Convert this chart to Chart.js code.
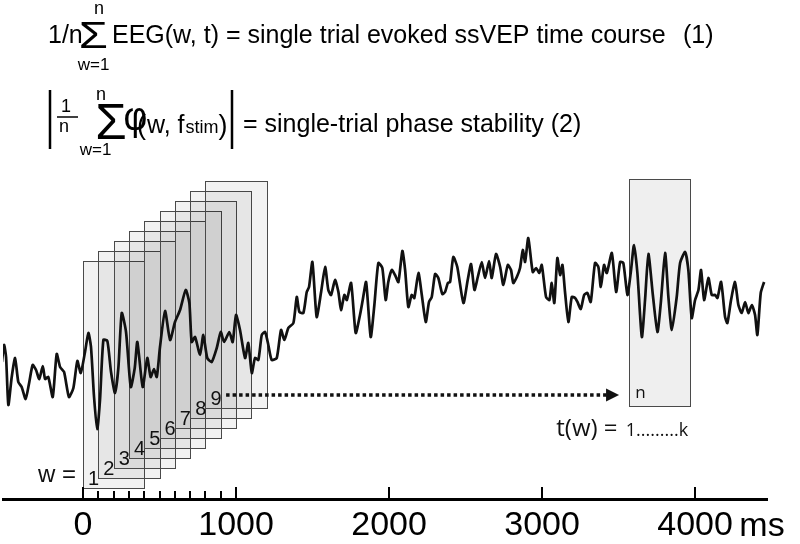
<!DOCTYPE html>
<html>
<head>
<meta charset="utf-8">
<script src="https://cdn.jsdelivr.net/npm/chart.js@4.4.1/dist/chart.umd.min.js"></script>
<style>
  html, body { margin: 0; background: #fff; }
</style>
</head>
<body>
<canvas id="eeg" width="800" height="544"></canvas>
<script>
// single trial EEG trace, time in ms relative to stimulus onset
const timeMs = [-530, -516, -503, -488, -466, -444, -423, -401, -375, -351, -329, -307, -286, -263, -248, -227,
  -198, -172, -150, -124, -92, -63, -37, -15, 13, 35, 52, 72, 93, 111, 133, 159, 183, 209, 231, 253, 281, 312,
  338, 355, 390, 420, 442, 464, 482, 503, 536, 569, 601, 634, 671, 695, 710, 732, 765, 786, 812, 841, 874, 900,
  922, 956, 978, 1000, 1026, 1059, 1080, 1103, 1124, 1146, 1168, 1190, 1211, 1233, 1266, 1294, 1316, 1342, 1375,
  1397, 1414, 1440, 1462, 1477, 1499, 1527, 1556, 1582, 1603, 1621, 1647, 1669, 1686, 1708, 1724, 1752, 1782,
  1810, 1828, 1850, 1880, 1904, 1930, 1956, 1978, 1995, 2018, 2039, 2061, 2087, 2105, 2126, 2148, 2165, 2192,
  2214, 2240, 2261, 2279, 2301, 2322, 2348, 2366, 2384, 2399, 2420, 2446, 2486, 2514, 2536, 2558, 2580, 2606,
  2627, 2654, 2671, 2699, 2726, 2747, 2776, 2797, 2812, 2835, 2856, 2874, 2889, 2910, 2939, 2961, 2982, 2998,
  3026, 3048, 3063, 3080, 3100, 3118, 3133, 3150, 3172, 3194, 3216, 3231, 3253, 3275, 3296, 3318, 3346, 3368,
  3384, 3405, 3423, 3456, 3484, 3510, 3531, 3558, 3580, 3601, 3623, 3652, 3673, 3695, 3724, 3754, 3776, 3804,
  3826, 3848, 3880, 3902, 3935, 3956, 3978, 4000, 4022, 4039, 4059, 4087, 4109, 4131, 4146, 4170, 4196, 4211,
  4235, 4261, 4283, 4305, 4327, 4348, 4371, 4392, 4407, 4429, 4451];
const amplitude = [38, 55, 43, -5, 23, 42, 18, 13, 1, 18, 35, 30, 21, 34, 21, 23,
  3, 46, 33, 28, 3, 12, 39, 27, 48, 67, 53, 3, -29, 0, 60, 59, 28, 7, 32, 87, 68, 13,
  32, 58, 13, 42, 23, 31, 23, 53, 89, 60, 78, 90, 110, 97, 58, 63, 45, 65, 42, 38, 52, 68,
  58, 68, 58, 85, 70, 42, 57, 27, 42, 40, 65, 68, 55, 40, 42, 70, 60, 72, 77,
  103, 88, 87, 108, 113, 138, 83, 108, 133, 110, 105, 120, 108, 90, 105, 100, 117, 67,
  85, 100, 118, 63, 95, 137, 132, 100, 118, 130, 125, 118, 149, 130, 93, 105, 102, 127,
  105, 78, 98, 103, 126, 122, 106, 108, 117, 118, 143, 133, 97, 120, 136, 110, 123, 138,
  122, 139, 122, 146, 133, 115, 135, 130, 117, 123, 132, 150, 138, 162, 128, 132, 127, 135,
  103, 100, 117, 97, 142, 125, 135, 108, 78, 103, 102, 98, 91, 105, 107, 98, 137, 133,
  113, 135, 127, 147, 108, 138, 137, 105, 128, 155, 127, 63, 100, 146, 105, 68, 97, 147,
  102, 70, 103, 137, 148, 130, 82, 100, 110, 130, 100, 122, 105, 105, 102, 118, 83, 77,
  100, 118, 95, 87, 98, 87, 95, 85, 65, 107, 118];

// axis ticks
const majorTicks = [0, 1000, 2000, 3000, 4000];
const minorTicks = [100, 200, 300, 400, 500, 600, 700, 800, 900];

// sliding windows w = 1..9 (start in ms, vertical stacking offset)
const windowLabels = ['1', '2', '3', '4', '5', '6', '7', '8', '9'];
const windowStarts = [0, 100, 200, 300, 400, 500, 600, 700, 800];
const windowLevels = [0, 10, 20, 30, 40, 50, 60, 70, 80];
const windowLength = 400;
const windowLow = -88, windowHigh = 139;
// last window n
const lastStart = 3570, lastLevel = 82;
// arrow from window 9 to window n
const arrowFrom = 935, arrowTo = 3503, arrowLevel = 5;

const sans = "'Liberation Sans', Arial, sans-serif";
const soft = "'Open Sans', sans-serif";

// draw a glyph stretched into a given pixel box
function fitBox(ctx, text, family, l, t, r, b) {
  ctx.font = `100px ${family}`;
  const m = ctx.measureText(text);
  const h = m.actualBoundingBoxAscent + m.actualBoundingBoxDescent;
  const w = m.actualBoundingBoxLeft + m.actualBoundingBoxRight;
  ctx.save();
  ctx.translate(l, t);
  ctx.scale((r - l) / w, (b - t) / h);
  ctx.textAlign = 'left';
  ctx.textBaseline = 'alphabetic';
  ctx.fillText(text, m.actualBoundingBoxLeft, m.actualBoundingBoxAscent);
  ctx.restore();
}

function put(ctx, text, font, x, y, align) {
  ctx.font = font;
  ctx.textAlign = align || 'left';
  ctx.textBaseline = 'alphabetic';
  ctx.fillText(text, x, y);
  return x + ctx.measureText(text).width;
}

const overlay = {
  id: 'overlay',
  beforeDatasetsDraw(chart) {
    const { ctx, scales: { x, y } } = chart;
    ctx.save();
    const box = (start, level, fill) => {
      const l = Math.round(x.getPixelForValue(start)) + 0.5;
      const r = Math.round(x.getPixelForValue(start + windowLength)) + 0.5;
      const t = Math.round(y.getPixelForValue(windowHigh + level)) + 0.5;
      const b = Math.round(y.getPixelForValue(windowLow + level)) + 0.5;
      ctx.fillStyle = fill;
      ctx.fillRect(l, t, r - l, b - t);
      ctx.strokeStyle = '#4a4a4a';
      ctx.lineWidth = 1;
      ctx.strokeRect(l, t, r - l, b - t);
    };
    windowStarts.forEach((s, i) => box(s, windowLevels[i], 'rgba(0,0,0,0.05)'));
    box(lastStart, lastLevel, '#efefef');
    ctx.restore();
  },
  afterDatasetsDraw(chart) {
    const { ctx, scales: { x, y } } = chart;
    ctx.save();
    ctx.fillStyle = '#111';
    windowStarts.forEach((s, i) => {
      put(ctx, windowLabels[i], `20px ${sans}`, x.getPixelForValue(s) + 5,
        y.getPixelForValue(windowLow + windowLevels[i]) - 3);
    });
    put(ctx, 'w =', `24px ${sans}`, x.getPixelForValue(0) - 45, y.getPixelForValue(windowLow) - 6);
    put(ctx, 'n', `17px ${soft}`, x.getPixelForValue(lastStart) + 6, y.getPixelForValue(windowLow + lastLevel) - 8);

    // dotted arrow
    const ay = y.getPixelForValue(arrowLevel);
    const ax0 = x.getPixelForValue(arrowFrom), ax1 = x.getPixelForValue(arrowTo);
    ctx.strokeStyle = '#111';
    ctx.lineWidth = 3.5;
    ctx.setLineDash([3.5, 3]);
    ctx.beginPath();
    ctx.moveTo(ax0, ay);
    ctx.lineTo(ax1 - 11, ay);
    ctx.stroke();
    ctx.setLineDash([]);
    ctx.beginPath();
    ctx.moveTo(ax1, ay);
    ctx.lineTo(ax1 - 13, ay - 6.5);
    ctx.lineTo(ax1 - 13, ay + 6.5);
    ctx.closePath();
    ctx.fill();

    // t(w) = 1.........k
    const tx = put(ctx, 't(w) = ', `24px ${soft}`, x.getPixelForValue(lastStart) - 73, ay + 41);
    put(ctx, '1.........k', `18px ${soft}`, tx + 2, ay + 41);
    ctx.restore();
  },
  afterDraw(chart) {
    const { ctx, scales: { x } } = chart;
    const base = chart.chartArea.bottom;
    ctx.save();
    ctx.strokeStyle = '#000';
    ctx.lineWidth = 2;
    ctx.beginPath();
    majorTicks.forEach(v => {
      const px = Math.round(x.getPixelForValue(v));
      ctx.moveTo(px, base); ctx.lineTo(px, base - 13);
    });
    minorTicks.forEach(v => {
      const px = Math.round(x.getPixelForValue(v));
      ctx.moveTo(px, base); ctx.lineTo(px, base - 9);
    });
    ctx.stroke();

    ctx.fillStyle = '#000';
    // unit label after the last tick label
    const tickFont = `34px ${sans}`;
    ctx.font = tickFont;
    const lastLabel = String(majorTicks[majorTicks.length - 1]);
    const unitX = x.getPixelForValue(majorTicks[majorTicks.length - 1]) +
      ctx.measureText(lastLabel).width / 2 + ctx.measureText(' ').width - 3;
    put(ctx, 'ms', tickFont, unitX, 535.5);

    // formula (1)
    const f1 = `25px ${sans}`;
    put(ctx, '1/n', f1, 48, 43);
    fitBox(ctx, '\u03a3', sans, 81, 22, 106, 48);
    put(ctx, 'n', `18px ${sans}`, 99, 14, 'center');
    put(ctx, 'w=1', `17px ${sans}`, 93.5, 70, 'center');
    put(ctx, 'EEG(w, t) = single trial evoked ssVEP time course', f1, 112, 43);
    put(ctx, '(1)', f1, 683, 43);

    // formula (2)
    ctx.lineWidth = 2.5;
    ctx.beginPath();
    ctx.moveTo(50, 90); ctx.lineTo(50, 149);
    ctx.moveTo(232, 90); ctx.lineTo(232, 149);
    ctx.stroke();
    ctx.lineWidth = 1.5;
    ctx.beginPath();
    ctx.moveTo(57, 117); ctx.lineTo(78, 117);
    ctx.stroke();
    put(ctx, '1', `18px ${sans}`, 66, 112, 'center');
    put(ctx, 'n', `18px ${sans}`, 64, 132, 'center');
    fitBox(ctx, '\u03a3', sans, 82, 104, 109, 139);
    put(ctx, 'n', `18px ${sans}`, 101, 100, 'center');
    put(ctx, 'w=1', `17px ${sans}`, 95.5, 155, 'center');
    fitBox(ctx, '\u03c6', sans, 113, 108, 134, 139);
    let cx = put(ctx, '(', `27px ${sans}`, 137, 134);
    cx = put(ctx, 'w, f', `25px ${sans}`, cx + 1, 133);
    cx = put(ctx, 'stim', `18px ${sans}`, cx + 1, 133);
    put(ctx, ')', `27px ${sans}`, cx, 134);
    put(ctx, '= single-trial phase stability (2)', f1, 243, 132);
    ctx.restore();
  }
};

new Chart(document.getElementById('eeg'), {
  type: 'line',
  data: {
    datasets: [{
      data: timeMs.map((t, i) => ({ x: t, y: amplitude[i] })),
      borderColor: '#111',
      borderWidth: 2.7,
      pointRadius: 0,
      tension: 0.2,
      fill: false
    }]
  },
  options: {
    responsive: false,
    animation: false,
    layout: { padding: { top: 170, left: 3, right: 33, bottom: -7 } },
    plugins: { legend: { display: false }, tooltip: { enabled: false } },
    scales: {
      x: {
        type: 'linear',
        min: -523,
        max: 4470,
        afterBuildTicks: s => { s.ticks = majorTicks.map(v => ({ value: v })); },
        grid: { display: false, drawTicks: false },
        border: { display: true, color: '#000', width: 3 },
        ticks: {
          color: '#000', padding: 8, maxRotation: 0, autoSkip: false,
          font: { family: sans, size: 34, lineHeight: 1.03 },
          callback: v => String(v)
        }
      },
      y: { type: 'linear', min: -100, max: 230, display: false }
    }
  },
  plugins: [overlay]
});
</script>
</body>
</html>
